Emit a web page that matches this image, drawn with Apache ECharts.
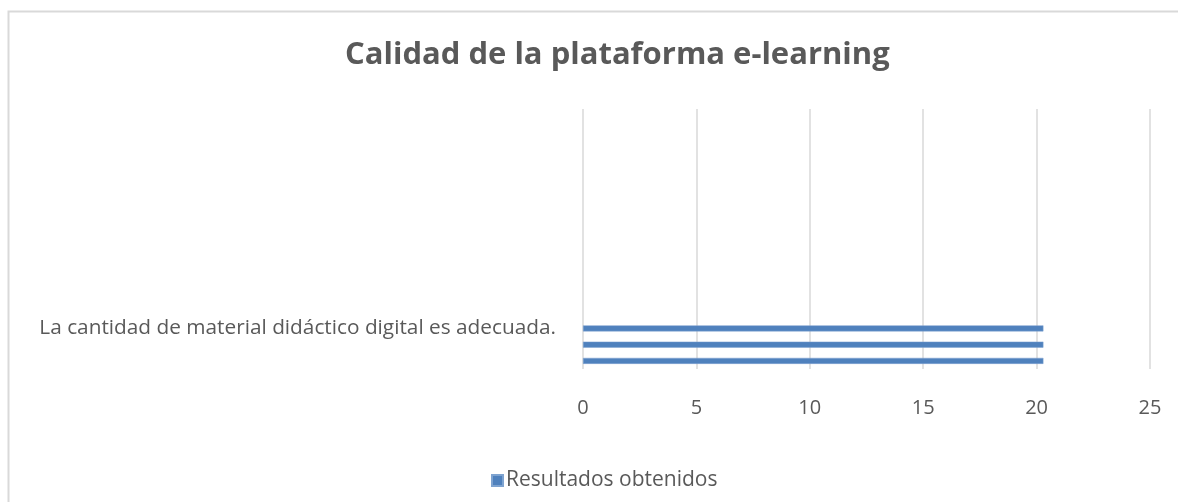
<!DOCTYPE html>
<html>
<head>
<meta charset="utf-8">
<script src="https://cdn.jsdelivr.net/npm/echarts@6/dist/echarts.min.js"></script>
<style>html,body{margin:0;padding:0;background:#fff;}#c{width:1178px;height:502px;}</style>
</head>
<body>
<div id="c"></div>
<script>
const title = "Calidad de la plataforma e-learning";
const seriesName = "Resultados obtenidos";
// categories, bottom to top
const categories = ["", "", "La cantidad de material didáctico digital es adecuada.", "", "", "", "", "", "", "", "", "", "", "", "", ""];
const values = [20.3, 20.3, 20.3, null, null, null, null, null, null, null, null, null, null, null, null, null];
const xTicks = {min: 0, max: 25, interval: 5};

const font = "'Open Sans', sans-serif";
const chart = echarts.init(document.getElementById('c'));
chart.setOption({
  animation: false,
  backgroundColor: '#fff',
  graphic: [{
    type: 'rect', silent: true, z: -10,
    shape: {x: 8.5, y: 11.5, width: 1300, height: 700},
    style: {fill: 'none', stroke: '#d9d9d9', lineWidth: 2}
  }],
  title: {
    text: title, left: 340, top: 35,
    textStyle: {fontFamily: font, fontSize: 31, fontWeight: 'bold', color: '#595959'}
  },
  legend: {
    left: 486, top: 465,
    icon: 'rect', itemWidth: 11, itemHeight: 11, itemGap: 5,
    textStyle: {fontFamily: font, fontSize: 21, color: '#595959', padding: [0,0,0,-2]},
    data: [seriesName]
  },
  grid: {left: 583, right: 28, top: 109, bottom: 133, containLabel: false},
  xAxis: {
    type: 'value', min: xTicks.min, max: xTicks.max, interval: xTicks.interval,
    axisLine: {show: false}, axisTick: {show: false},
    splitLine: {lineStyle: {color: '#d9d9d9', width: 1.5}},
    axisLabel: {fontFamily: font, fontSize: 20, color: '#595959', margin: 29}
  },
  yAxis: {
    type: 'category', data: categories,
    axisLine: {show: false}, axisTick: {show: false},
    axisLabel: {interval: 0, fontFamily: font, fontSize: 20.8, color: '#595959', margin: 27}
  },
  series: [{
    name: seriesName, type: 'bar', data: values, barWidth: 6,
    itemStyle: {color: '#4f81bd', borderColor: '#7ea3d0', borderWidth: 0.5}
  }]
});
</script>
</body>
</html>
